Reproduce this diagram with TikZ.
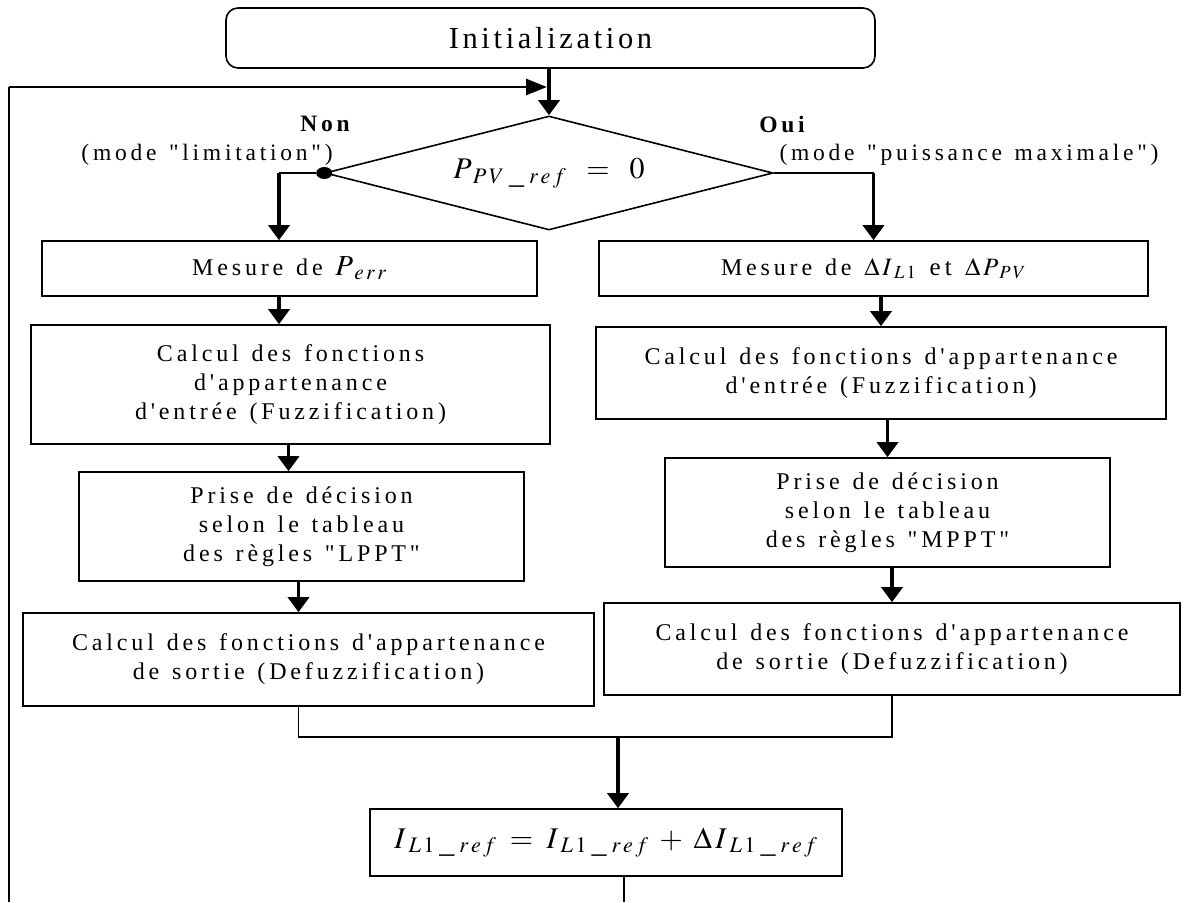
\documentclass[tikz,border=0pt]{standalone}
\usepackage{mathptmx}
\usepackage{fontspec}
\setmainfont{Liberation Serif}[Ligatures=TeXOff, LetterSpace=16, WordSpace=1.3]
\usetikzlibrary{arrows.meta,shapes.geometric}

\tikzset{
  box/.style={draw, line width=1.6pt, align=center, inner sep=0pt, font=\fontsize{24}{29}\selectfont},
  conn/.style={line width=1.6pt},
  arrow/.style={line width=3.5pt, -{Triangle[width=21pt,length=15pt]}},
  loopline/.style={line width=2.5pt},
  lab/.style={inner sep=0pt, font=\fontsize{23.5}{26}\selectfont},
  dot/.style={ellipse, fill, minimum width=16pt, minimum height=12pt, inner sep=0pt}
}

\begin{document}
\begin{tikzpicture}[x=1pt, y=-1pt]
\useasboundingbox (0,0) rectangle (1188,902);

% start and test
\node[box, rounded corners=12pt, minimum width=649pt, minimum height=60pt, font=\fontsize{30.5}{34}\selectfont\addfontfeature{LetterSpace=12}] (init) at (550.5,38) {Initialization};
\node[draw, diamond, line width=1.6pt, aspect=3.9, inner sep=0pt, minimum width=448pt, minimum height=114pt, font=\fontsize{30}{34}\selectfont] (dec) at (549,173) {$P_{\;P\,V\;\_\;r\,e\,f}\;\;=\;\;0$};
\node[dot] (dotL) at (dec.west) {};

\node[lab] (non) at (325,124) {\bfseries Non};
\node[lab] (nonmode) at (207,155) {(mode "limitation")};
\node[lab] (oui) at (782,124) {\bfseries Oui};
\node[lab] (ouimode) at (969,155) {(mode "puissance maximale")};

% left branch: limitation
\node[box, minimum width=495pt, minimum height=55pt] (mesL) at (289.5,268.5) {Mesure de \fontsize{29}{30}\selectfont$P_{\;e\,r\,r}$};
\node[box, minimum width=519pt, minimum height=119pt] (calcL) at (290.5,384.5) {Calcul des fonctions\\d'appartenance\\d'entrée (Fuzzification)};
\node[box, minimum width=445pt, minimum height=109pt] (priseL) at (301.5,526.5) {Prise de décision\\selon le tableau\\des règles "LPPT"};
\node[box, minimum width=571pt, minimum height=93pt] (sortL) at (308.5,659.5) {Calcul des fonctions d'appartenance\\de sortie (Defuzzification)};

% right branch: puissance maximale
\node[box, minimum width=549pt, minimum height=55pt] (mesR) at (873.5,268.5) {Mesure de \fontsize{25}{28}\selectfont$\Delta\,I_{\;L\,1}$ et $\Delta\,P_{\;P\,V}$};
\node[box, minimum width=570pt, minimum height=92pt] (calcR) at (881,373) {Calcul des fonctions d'appartenance\\d'entrée (Fuzzification)};
\node[box, minimum width=445pt, minimum height=109pt] (priseR) at (887.5,512.5) {Prise de décision\\selon le tableau\\des règles "MPPT"};
\node[box, minimum width=576pt, minimum height=92pt] (sortR) at (892,649) {Calcul des fonctions d'appartenance\\de sortie (Defuzzification)};

% update
\node[box, minimum width=472pt, minimum height=67pt, font=\fontsize{30}{32}\selectfont] (final) at (606,842.5) {$I_{\;L\,1\;\_\;r\,e\,f}\;=\;I_{\;L\,1\;\_\;r\,e\,f}\;+\;\Delta\,I_{\;L\,1\;\_\;r\,e\,f}$};

\coordinate (loopT) at (9,87);
\coordinate (loopB) at (9,902);
\coordinate (bendL) at (279,173);
\coordinate (bendR) at (mesR.north |- dec.east);
\coordinate (merge) at (618,737);
\coordinate (exitB) at (624,902);

\draw[arrow] (dec.north |- init.south) -- (dec.north);
\draw[loopline] (loopB) -- (loopT);
\draw[loopline, -{Triangle[width=16pt,length=21pt]}, shorten >=2pt] (loopT) -- (loopT -| dec.north);

\draw[conn] (dotL) -- (bendL);
\draw[arrow] (bendL) -- (bendL |- mesL.north);
\draw[arrow] (bendL |- mesL.south) -- (bendL |- calcL.north);
\draw[arrow] ([xshift=-2pt]calcL.south) -- ([xshift=-2pt]calcL.south |- priseL.north);
\draw[arrow] ([xshift=-3pt]priseL.south) -- ([xshift=-3pt]priseL.south |- sortL.north);

\draw[conn] (dec.east) -- (bendR);
\draw[arrow] (bendR) -- (mesR.north);
\draw[arrow] (calcR.north |- mesR.south) -- (calcR.north);
\draw[arrow] (priseR.north |- calcR.south) -- (priseR.north);
\draw[arrow] (sortR.north |- priseR.south) -- (sortR.north);

\draw[conn] ([xshift=-10pt]sortL.south) |- (merge) -| (sortR.south);
\draw[arrow] (merge) -- (merge |- final.north);
\draw[conn] ([xshift=18pt]final.south) -- (exitB);

\end{tikzpicture}
\end{document}
